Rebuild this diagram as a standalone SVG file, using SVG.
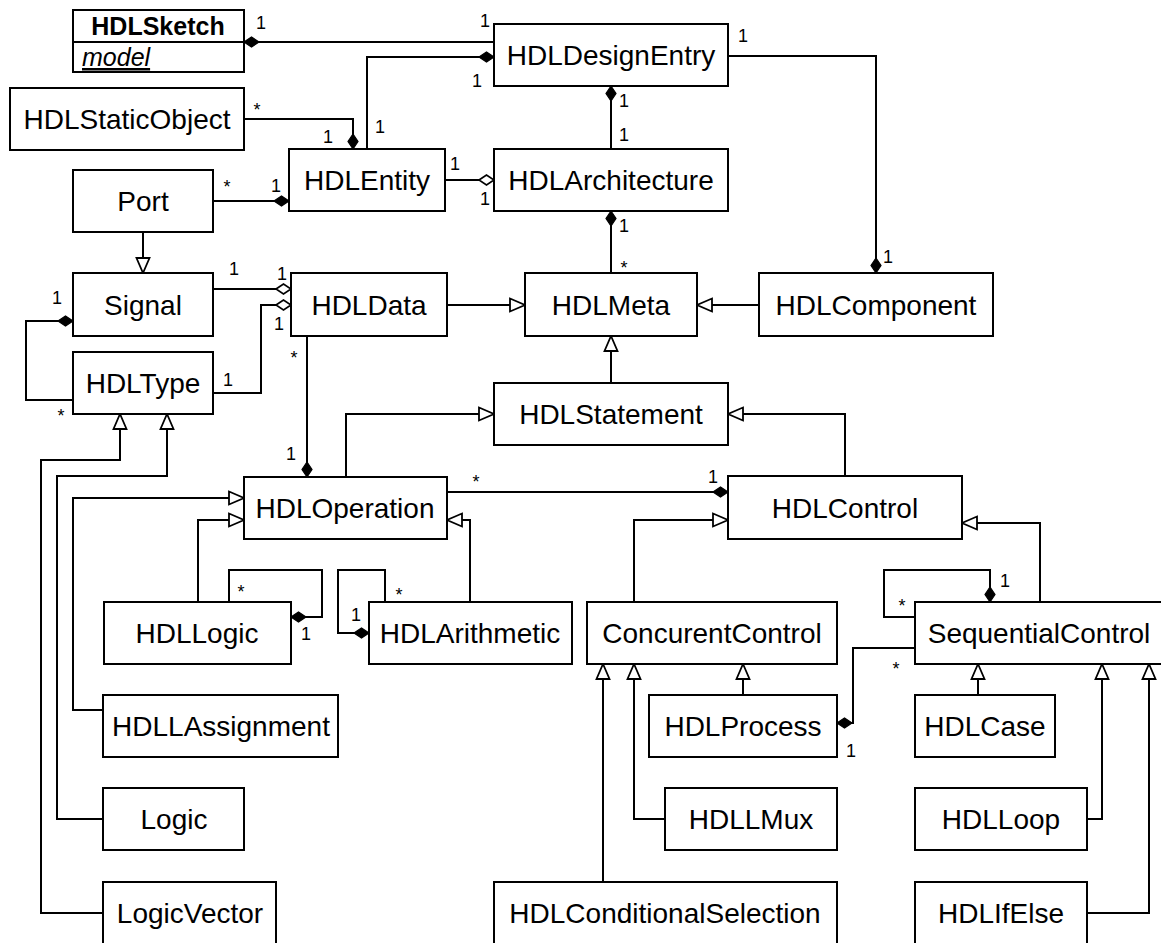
<svg xmlns="http://www.w3.org/2000/svg" width="1161" height="943" viewBox="0 0 1161 943">
<defs>
<style>
.box{fill:#fff;stroke:#000;stroke-width:2}
.t{font-family:"Liberation Sans",Arial,Helvetica,sans-serif;font-size:28px;text-anchor:middle;fill:#000}
.m{font-family:"Liberation Sans",Arial,Helvetica,sans-serif;font-size:18px;text-anchor:middle;fill:#000}
.c{fill:none;stroke:#000;stroke-width:2}
.gen{marker-end:url(#tri)}
.comp{marker-end:url(#dia)}
.agg{marker-end:url(#odia)}
</style>
<marker id="tri" markerUnits="userSpaceOnUse" markerWidth="18" markerHeight="16" refX="16" refY="7.5" orient="auto" overflow="visible">
<path d="M1,1 L16,7.5 L1,14 Z" fill="#fff" stroke="#000" stroke-width="1.8"/>
</marker>
<marker id="dia" markerUnits="userSpaceOnUse" markerWidth="18" markerHeight="12" refX="16" refY="6" orient="auto" overflow="visible">
<path d="M1,6 L8.5,1 L16,6 L8.5,11 Z" fill="#000" stroke="#000" stroke-width="1.2"/>
</marker>
<marker id="odia" markerUnits="userSpaceOnUse" markerWidth="18" markerHeight="12" refX="16" refY="6" orient="auto" overflow="visible">
<path d="M1,6 L8.5,1 L16,6 L8.5,11 Z" fill="#fff" stroke="#000" stroke-width="1.6"/>
</marker>
</defs>
<rect width="1161" height="943" fill="#fff"/>

<g id="connectors">
<path class="c comp" d="M494,42 L244,42"/>
<path class="c comp" d="M367,149 L367,57 L494,57"/>
<path class="c comp" d="M244,119 L353,119 L353,149"/>
<path class="c comp" d="M213,201 L289,201"/>
<path class="c agg" d="M445,180 L494,180"/>
<path class="c comp" d="M611,149 L611,86"/>
<path class="c comp" d="M611,273 L611,211"/>
<path class="c comp" d="M728,56 L876,56 L876,273"/>
<path class="c gen" d="M143,232 L143,273"/>
<path class="c agg" d="M213,289 L291,289"/>
<path class="c agg" d="M213,393 L261,393 L261,305 L291,305"/>
<path class="c comp" d="M73,400 L26,400 L26,321 L73,321"/>
<path class="c gen" d="M447,305 L525,305"/>
<path class="c gen" d="M759,305 L697,305"/>
<path class="c gen" d="M611,383 L611,336"/>
<path class="c comp" d="M307,336 L307,477"/>
<path class="c gen" d="M346,477 L346,414 L494,414"/>
<path class="c gen" d="M845,476 L845,414 L728,414"/>
<path class="c comp" d="M447,492 L728,492"/>
<path class="c gen" d="M103,913 L41,913 L41,460 L120,460 L120,414"/>
<path class="c gen" d="M103,819 L57,819 L57,476 L167,476 L167,414"/>
<path class="c gen" d="M103,710 L73,710 L73,498 L244,498"/>
<path class="c gen" d="M198,602 L198,520 L244,520"/>
<path class="c gen" d="M470,602 L470,520 L447,520"/>
<path class="c comp" d="M229,602 L229,570 L322,570 L322,617 L291,617"/>
<path class="c comp" d="M385,602 L385,570 L338,570 L338,633 L369,633"/>
<path class="c gen" d="M634,602 L634,520 L728,520"/>
<path class="c gen" d="M1040,602 L1040,523 L962,523"/>
<path class="c comp" d="M915,617 L884,617 L884,570 L990,570 L990,602"/>
<path class="c comp" d="M915,648 L853,648 L853,723 L837,723"/>
<path class="c gen" d="M743,695 L743,664"/>
<path class="c gen" d="M665,819 L634,819 L634,664"/>
<path class="c gen" d="M603,882 L603,664"/>
<path class="c gen" d="M978,695 L978,664"/>
<path class="c gen" d="M1087,819 L1102,819 L1102,664"/>
<path class="c gen" d="M1087,913 L1149,913 L1149,664"/>
</g>

<g id="labels">
<text class="m" x="261" y="29">1</text>
<text class="m" x="485" y="27">1</text>
<text class="m" x="477" y="87">1</text>
<text class="m" x="380" y="133">1</text>
<text class="m" x="257" y="116">*</text>
<text class="m" x="328" y="143">1</text>
<text class="m" x="227" y="193">*</text>
<text class="m" x="276" y="192">1</text>
<text class="m" x="455" y="170">1</text>
<text class="m" x="485" y="205">1</text>
<text class="m" x="624" y="107">1</text>
<text class="m" x="624" y="141">1</text>
<text class="m" x="624" y="232">1</text>
<text class="m" x="624" y="274">*</text>
<text class="m" x="743" y="42">1</text>
<text class="m" x="888" y="263">1</text>
<text class="m" x="234" y="275">1</text>
<text class="m" x="282" y="280">1</text>
<text class="m" x="279" y="330">1</text>
<text class="m" x="228" y="386">1</text>
<text class="m" x="57" y="304">1</text>
<text class="m" x="61" y="422">*</text>
<text class="m" x="294" y="364">*</text>
<text class="m" x="291" y="460">1</text>
<text class="m" x="476" y="488">*</text>
<text class="m" x="713" y="483">1</text>
<text class="m" x="241" y="598">*</text>
<text class="m" x="306" y="640">1</text>
<text class="m" x="356" y="621">1</text>
<text class="m" x="399" y="601">*</text>
<text class="m" x="902" y="612">*</text>
<text class="m" x="1005" y="587">1</text>
<text class="m" x="896" y="675">*</text>
<text class="m" x="851" y="757">1</text>
</g>

<g id="HDLSketch">
<rect class="box" x="73" y="10" width="171" height="62"/>
<line x1="73" y1="42" x2="244" y2="42" stroke="#000" stroke-width="2"/>
<text x="158" y="35" font-family="Liberation Sans,Arial,Helvetica,sans-serif" font-size="25" font-weight="bold" text-anchor="middle">HDLSketch</text>
<text x="82" y="66" font-family="Liberation Sans,Arial,Helvetica,sans-serif" font-size="25" font-style="italic" text-decoration="underline">model</text>
</g>
<g id="HDLDesignEntry"><rect class="box" x="494" y="24" width="234" height="62"/><text class="t" x="611" y="65">HDLDesignEntry</text></g>
<g id="HDLStaticObject"><rect class="box" x="10" y="88" width="234" height="62"/><text class="t" x="127" y="129">HDLStaticObject</text></g>
<g id="HDLEntity"><rect class="box" x="289" y="149" width="156" height="62"/><text class="t" x="367" y="190">HDLEntity</text></g>
<g id="Port"><rect class="box" x="73" y="170" width="140" height="62"/><text class="t" x="143" y="211">Port</text></g>
<g id="HDLArchitecture"><rect class="box" x="494" y="149" width="234" height="62"/><text class="t" x="611" y="190">HDLArchitecture</text></g>
<g id="Signal"><rect class="box" x="73" y="273" width="140" height="63"/><text class="t" x="143" y="315">Signal</text></g>
<g id="HDLData"><rect class="box" x="291" y="273" width="156" height="63"/><text class="t" x="369" y="315">HDLData</text></g>
<g id="HDLMeta"><rect class="box" x="525" y="273" width="172" height="63"/><text class="t" x="611" y="315">HDLMeta</text></g>
<g id="HDLComponent"><rect class="box" x="759" y="273" width="234" height="63"/><text class="t" x="876" y="315">HDLComponent</text></g>
<g id="HDLType"><rect class="box" x="73" y="352" width="140" height="62"/><text class="t" x="143" y="393">HDLType</text></g>
<g id="HDLStatement"><rect class="box" x="494" y="383" width="234" height="62"/><text class="t" x="611" y="424">HDLStatement</text></g>
<g id="HDLOperation"><rect class="box" x="244" y="477" width="203" height="62"/><text class="t" x="345" y="518">HDLOperation</text></g>
<g id="HDLControl"><rect class="box" x="728" y="476" width="234" height="63"/><text class="t" x="845" y="518">HDLControl</text></g>
<g id="HDLLogic"><rect class="box" x="104" y="602" width="187" height="62"/><text class="t" x="197" y="643">HDLLogic</text></g>
<g id="HDLArithmetic"><rect class="box" x="369" y="602" width="203" height="62"/><text class="t" x="470" y="643">HDLArithmetic</text></g>
<g id="ConcurentControl"><rect class="box" x="587" y="602" width="250" height="62"/><text class="t" x="712" y="643">ConcurentControl</text></g>
<g id="SequentialControl"><rect class="box" x="915" y="602" width="248" height="62"/><text class="t" x="1039" y="643">SequentialControl</text></g>
<g id="HDLLAssignment"><rect class="box" x="103" y="695" width="235" height="62"/><text class="t" x="221" y="736">HDLLAssignment</text></g>
<g id="HDLProcess"><rect class="box" x="649" y="695" width="188" height="62"/><text class="t" x="743" y="736">HDLProcess</text></g>
<g id="HDLCase"><rect class="box" x="915" y="695" width="140" height="62"/><text class="t" x="985" y="736">HDLCase</text></g>
<g id="Logic"><rect class="box" x="103" y="788" width="141" height="62"/><text class="t" x="174" y="829">Logic</text></g>
<g id="HDLLMux"><rect class="box" x="665" y="788" width="172" height="62"/><text class="t" x="751" y="829">HDLLMux</text></g>
<g id="HDLLoop"><rect class="box" x="915" y="788" width="172" height="62"/><text class="t" x="1001" y="829">HDLLoop</text></g>
<g id="LogicVector"><rect class="box" x="103" y="882" width="173" height="63"/><text class="t" x="190" y="923">LogicVector</text></g>
<g id="HDLConditionalSelection"><rect class="box" x="494" y="882" width="343" height="63"/><text class="t" x="665" y="923">HDLConditionalSelection</text></g>
<g id="HDLIfElse"><rect class="box" x="915" y="882" width="172" height="63"/><text class="t" x="1001" y="923">HDLIfElse</text></g>
</svg>
